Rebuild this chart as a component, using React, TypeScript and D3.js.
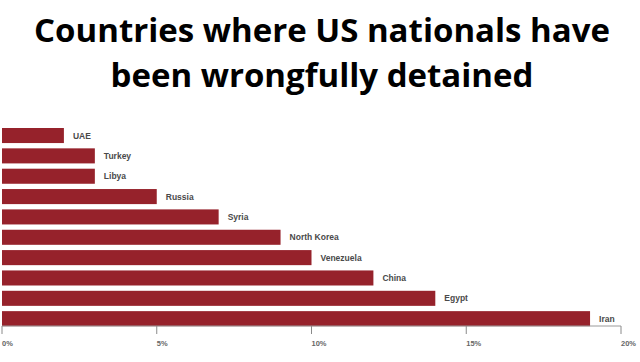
import React from "react";
import * as d3 from "d3";

// data
const countries = ["UAE", "Turkey", "Libya", "Russia", "Syria", "North Korea", "Venezuela", "China", "Egypt", "Iran"];
const shares = [2, 3, 3, 5, 7, 9, 10, 12, 14, 19];
const tickValues = [0, 5, 10, 15, 20];
const titleLines = ["Countries where US nationals have", "been wrongfully detained"];

const W = 640;
const H = 362;

export default function App() {
  const x = d3.scaleLinear().domain([0, 20]).range([2, 621]);
  const y = d3.scaleBand<string>().domain(countries).range([128, 326.2]).paddingInner(0.26).paddingOuter(0);
  const axisY = 326;

  return (
    <div style={{ position: "fixed", left: 0, top: 0, background: "#fff" }}>
      <svg width={W} height={H} viewBox={`0 0 ${W} ${H}`}>
        <rect width={W} height={H} fill="#fff" />
        {titleLines.map((t, i) => (
          <text
            key={i}
            x={W / 2 + 2}
            y={42 + i * 45}
            textAnchor="middle"
            fontFamily="'Open Sans', sans-serif"
            fontWeight={700}
            fontSize={33}
            fill="#000"
          >
            {t}
          </text>
        ))}
        <g>
          {countries.map((c, i) => (
            <g key={c}>
              <rect x={x(0)} y={y(c)} width={x(shares[i]) - x(0)} height={y.bandwidth()} fill="#96222b" />
              <text
                x={x(shares[i]) + 9}
                y={(y(c) ?? 0) + y.bandwidth() / 2}
                dy="0.35em"
                fontFamily="'Liberation Sans', Arial, sans-serif"
                fontWeight={700}
                fontSize={8.5}
                fill="#4a4a4a"
              >
                {c}
              </text>
            </g>
          ))}
        </g>
        <g>
          <line x1={x(0)} x2={x(20)} y1={axisY} y2={axisY} stroke="#9a9a9a" strokeWidth={1} />
          {tickValues.map((v) => (
            <g key={v}>
              <line x1={x(v)} x2={x(v)} y1={axisY} y2={axisY + 8} stroke="#8a8a8a" strokeWidth={1} />
              <text
                x={x(v)}
                y={346}
                fontFamily="'Liberation Sans', Arial, sans-serif"
                fontWeight={700}
                fontSize={7.5}
                fill="#666"
              >
                {v}%
              </text>
            </g>
          ))}
        </g>
      </svg>
    </div>
  );
}
